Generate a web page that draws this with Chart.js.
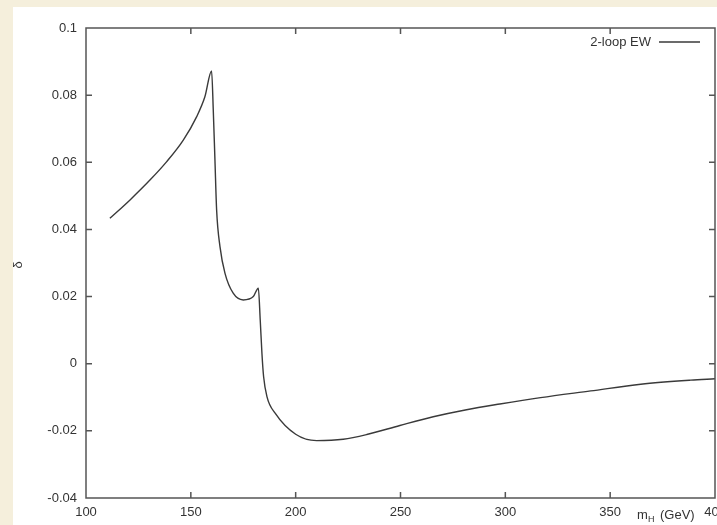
<!DOCTYPE html>
<html>
<head>
<meta charset="utf-8">
<script src="https://cdn.jsdelivr.net/npm/chart.js@4/dist/chart.umd.min.js"></script>
<style>
  html, body { margin: 0; padding: 0; overflow: hidden; background: #f5efdc; }
  #wrap { width: 740px; height: 525px; }
</style>
</head>
<body>
<div id="wrap"><canvas id="chart" width="740" height="525"></canvas></div>
<script>
// Higgs mass (GeV) and the 2-loop electroweak correction delta
const massH = [111.4, 121.0, 130.5, 138.5, 146.4, 152.8, 156.7, 159.9, 160.7, 161.5,
    162.3, 163.9, 166.3, 170.2, 175.0, 179.8, 182.2, 183.1, 183.9, 184.7,
    186.3, 190.3, 200.0, 210.0, 222.7, 233.9, 249.7, 265.6, 281.5, 297.4,
    316.8, 340.7, 364.6, 388.4, 400];
const delta = [0.0433, 0.0488, 0.0547, 0.0602, 0.0666, 0.0736, 0.0795, 0.0872, 0.0756, 0.0607,
    0.0458, 0.0349, 0.0269, 0.0210, 0.0190, 0.0200, 0.0225, 0.0130, 0.0032, -0.0038,
    -0.0098, -0.0148, -0.0210, -0.0229, -0.0225, -0.0211, -0.0184, -0.0158, -0.0137, -0.0120,
    -0.0101, -0.0081, -0.0061, -0.0049, -0.0045];
const seriesLabel = "2-loop EW";
const xTicks = [100, 150, 200, 250, 300, 350, 400];
const yTicks = [-0.04, -0.02, 0, 0.02, 0.04, 0.06, 0.08, 0.1];

const FONT = "'Liberation Sans', Arial, sans-serif";
const AXIS = "#555";
const TEXT = "#333";

const framePlugin = {
    id: "frame",
    beforeDraw(chart) {
        const c = chart.ctx;
        c.save();
        c.fillStyle = "#f5efdc";
        c.fillRect(0, 0, chart.width, chart.height);
        c.fillStyle = "#fff";
        c.fillRect(13, 7, chart.width - 13, chart.height - 7);
        c.restore();
    },
    afterDraw(chart) {
        const c = chart.ctx;
        const a = chart.chartArea;
        const xs = chart.scales.x, ys = chart.scales.y;
        c.save();
        c.strokeStyle = AXIS;
        c.lineWidth = 1.5;
        c.strokeRect(a.left, a.top, a.right - a.left, a.bottom - a.top);
        c.beginPath();
        xTicks.slice(1, -1).forEach(v => {
            const px = xs.getPixelForValue(v);
            c.moveTo(px, a.bottom); c.lineTo(px, a.bottom - 6);
            c.moveTo(px, a.top); c.lineTo(px, a.top + 6);
        });
        yTicks.slice(1, -1).forEach(v => {
            const py = ys.getPixelForValue(v);
            c.moveTo(a.left, py); c.lineTo(a.left + 6, py);
            c.moveTo(a.right, py); c.lineTo(a.right - 6, py);
        });
        c.stroke();

        // legend
        c.fillStyle = TEXT;
        c.font = "13px " + FONT;
        c.textAlign = "right";
        c.textBaseline = "middle";
        c.fillText(seriesLabel, 651, 42);
        c.strokeStyle = "#3a3a3a";
        c.lineWidth = 1.3;
        c.beginPath();
        c.moveTo(659, 42); c.lineTo(700, 42);
        c.stroke();

        // axis titles
        c.textAlign = "left";
        c.textBaseline = "alphabetic";
        c.font = "13px " + FONT;
        c.fillText("m", 637, 519);
        c.font = "9px " + FONT;
        c.fillText("H", 648, 522);
        c.font = "13px " + FONT;
        c.fillText("(GeV)", 660, 519);

        c.translate(18, 265);
        c.rotate(-Math.PI / 2);
        c.textAlign = "center";
        c.textBaseline = "middle";
        c.fillText("δ", 0, 0);
        c.restore();
    }
};

new Chart(document.getElementById("chart"), {
    type: "line",
    data: {
        datasets: [{
            label: seriesLabel,
            data: massH.map((m, i) => ({ x: m, y: delta[i] })),
            borderColor: "#3a3a3a",
            borderWidth: 1.4,
            pointRadius: 0,
            fill: false,
            cubicInterpolationMode: "monotone",
        }],
    },
    options: {
        responsive: false,
        animation: false,
        layout: { padding: { top: 28, right: 25, left: 0, bottom: 0 } },
        plugins: { legend: { display: false }, tooltip: { enabled: false } },
        scales: {
            x: {
                type: "linear",
                min: 100,
                max: 400,
                afterBuildTicks: s => { s.ticks = xTicks.map(v => ({ value: v })); },
                afterFit: s => { s.height = 27; },
                grid: { display: false, drawTicks: false },
                border: { display: false },
                ticks: { color: TEXT, font: { family: FONT, size: 13 }, padding: 7, maxRotation: 0 },
            },
            y: {
                min: -0.04,
                max: 0.1,
                afterBuildTicks: s => { s.ticks = yTicks.map(v => ({ value: v })); },
                afterFit: s => { s.width = 86; },
                grid: { display: false, drawTicks: false },
                border: { display: false },
                ticks: {
                    color: TEXT,
                    font: { family: FONT, size: 13 },
                    padding: 9,
                    callback: v => String(Math.round(v * 100) / 100),
                },
            },
        },
    },
    plugins: [framePlugin],
});
</script>
</body>
</html>
